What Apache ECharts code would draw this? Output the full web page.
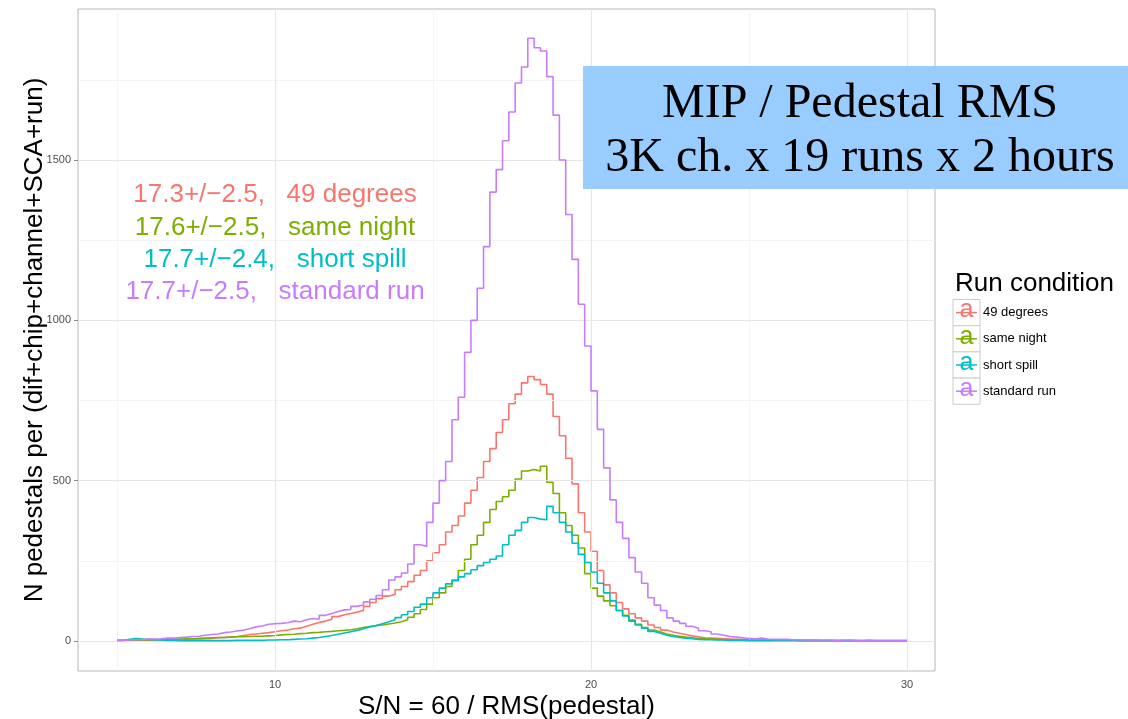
<!DOCTYPE html>
<html>
<head>
<meta charset="utf-8">
<script src="https://cdn.jsdelivr.net/npm/echarts/dist/echarts.min.js"></script>
<style>
html,body{margin:0;padding:0;background:#fff;}
#chart{width:1128px;height:719px;}
</style>
</head>
<body>
<div id="chart"></div>
<script>
// ---- data ----
const seriesNames = ['49 degrees', 'same night', 'short spill', 'standard run'];
const seriesColors = ['#F8766D', '#7CAE00', '#00BFC4', '#C77CFF'];
const binStart = 5.0;
const binWidth = 0.2;

const deg49 = [
  1,1,2,2,2,3,3,3,4,4,
  5,6,6,7,8,10,11,12,14,17,
  20,22,24,26,29,32,34,38,40,46,
  52,58,62,68,76,82,86,90,95,108,
  120,132,140,145,160,170,185,205,220,250,
  275,300,340,360,390,430,470,510,560,600,
  650,690,740,770,805,825,815,800,770,700,
  640,570,490,400,340,280,220,175,150,120,
  100,85,72,62,50,42,34,28,24,20,
  16,13,10,9,8,7,6,5,5,4,
  3,3,3,2,2,2,2,2,1,1,
  1,1,1,1,1,1,1,0,1,0,
  0,0,0,0,0
];
const sameNight = [
  1,2,3,3,4,4,4,5,5,6,
  7,7,8,9,10,11,11,12,13,13,
  14,15,15,16,17,19,20,21,23,24,
  26,27,29,30,32,33,35,38,42,45,
  48,50,53,56,60,66,74,85,98,115,
  135,150,170,190,220,255,300,330,370,410,
  435,450,470,505,530,535,530,545,495,460,
  400,360,330,290,210,165,140,125,110,95,
  80,65,52,42,34,28,22,18,15,12,
  10,8,7,6,5,4,4,3,3,2,
  2,2,2,1,1,1,1,1,1,1,
  1,0,1,0,0,1,0,0,0,0,
  0,0,0,0,0
];
const shortSpill = [
  2,5,8,6,5,4,3,2,2,1,
  1,1,1,1,1,1,1,1,2,2,
  2,2,2,3,3,4,4,5,6,7,
  9,11,14,17,21,25,29,33,38,44,
  48,54,60,66,73,82,92,105,115,135,
  150,165,178,188,200,210,222,235,245,255,
  265,300,330,345,370,385,380,378,420,400,
  370,340,305,270,245,215,180,150,125,95,
  78,62,50,40,30,24,18,14,11,9,
  7,5,4,4,3,3,2,2,2,1,
  1,1,1,1,1,1,1,0,1,0,
  0,0,0,0,0,0,0,0,0,0,
  0,0,0,0,0
];
const standardRun = [
  2,3,4,4,6,6,7,9,9,11,
  12,14,15,18,20,22,26,28,31,34,
  38,44,47,52,54,55,57,62,60,66,
  70,68,80,86,92,97,98,108,112,122,
  130,142,160,190,200,212,240,300,295,370,
  430,500,560,690,760,900,1000,1100,1230,1400,
  1470,1560,1650,1740,1790,1880,1850,1840,1760,1640,
  1500,1330,1190,1050,920,780,660,540,440,370,
  320,260,215,180,135,112,95,72,62,55,
  46,40,32,29,22,18,14,12,10,8,
  7,9,6,5,5,5,4,4,3,4,
  3,3,3,2,3,3,2,2,3,2,
  2,2,2,2,2
];

const annotationTexts = [
  '17.3+/\u22122.5,   49 degrees',
  '17.6+/\u22122.5,   same night',
  '17.7+/\u22122.4,   short spill',
  '17.7+/\u22122.5,   standard run'
];
const annotationX = 10;
const annotationY = [1390, 1290, 1190, 1090];

const xMajorTicks = [10, 20, 30];
const xMinorTicks = [5, 15, 25];
const yMajorTicks = [0, 500, 1000, 1500];
const yMinorTicks = [250, 750, 1250, 1750];

const xTitle = 'S/N = 60 / RMS(pedestal)';
const yTitle = 'N pedestals per (dif+chip+channel+SCA+run)';
const legendTitle = 'Run condition';
const boxLines = ['MIP / Pedestal RMS', '3K ch. x 19 runs x 2 hours'];

// ---- build ----
const allValues = [deg49, sameNight, shortSpill, standardRun];
function toSteps(vals) {
  const pts = vals.map((v, i) => [binStart + i * binWidth, v]);
  pts.push([binStart + vals.length * binWidth, vals[vals.length - 1]]);
  return pts;
}

const SANS = '"Liberation Sans", Arial, Helvetica, sans-serif';
const SERIF = '"Liberation Serif", "Times New Roman", serif';

const gridMarkLines = [];
xMinorTicks.forEach(v => gridMarkLines.push({ xAxis: v, lineStyle: { color: '#f4f4f4', width: 1, type: 'solid' } }));
yMinorTicks.forEach(v => gridMarkLines.push({ yAxis: v, lineStyle: { color: '#f4f4f4', width: 1, type: 'solid' } }));
xMajorTicks.forEach(v => gridMarkLines.push({ xAxis: v, lineStyle: { color: '#e6e6e6', width: 1.2, type: 'solid' } }));
yMajorTicks.forEach(v => gridMarkLines.push({ yAxis: v, lineStyle: { color: '#e6e6e6', width: 1.2, type: 'solid' } }));

const series = [{
  type: 'line',
  name: 'grid',
  data: [],
  z: 1,
  silent: true,
  markLine: {
    silent: true,
    symbol: 'none',
    animation: false,
    label: { show: false },
    lineStyle: { type: 'solid' },
    data: gridMarkLines
  }
}];

allValues.forEach((vals, i) => {
  series.push({
    type: 'line',
    name: seriesNames[i],
    step: 'end',
    showSymbol: false,
    symbol: 'none',
    z: 3 + i,
    data: toSteps(vals),
    lineStyle: { color: seriesColors[i], width: 1.6 },
    itemStyle: { color: seriesColors[i] },
    animation: false
  });
});

series.push({
  type: 'scatter',
  name: 'annotations',
  symbolSize: 0,
  z: 10,
  silent: true,
  itemStyle: { opacity: 1 },
  data: annotationY.map((y, i) => ({
    value: [annotationX, y],
    itemStyle: { opacity: 1 },
    label: {
      show: true,
      position: 'inside',
      formatter: annotationTexts[i],
      color: seriesColors[i],
      fontSize: 26,
      fontFamily: SANS,
      align: 'center',
      verticalAlign: 'middle',
      opacity: 1,
      textBorderWidth: 0
    }
  })),
  animation: false
});

// legend drawn as graphic elements from the series names
const legendEls = [];
const legX = 953, legY0 = 299.5, keyW = 27, keyH = 26.2;
legendEls.push({
  type: 'text', left: 955, top: 271,
  style: { text: legendTitle, font: '26px ' + SANS, fill: '#000' }
});
seriesNames.forEach((nm, i) => {
  const y = legY0 + i * keyH;
  legendEls.push({
    type: 'rect', shape: { x: legX, y: y, width: keyW, height: keyH },
    style: { fill: '#fff', stroke: '#cccccc', lineWidth: 1 }
  });
  legendEls.push({
    type: 'text', x: legX + keyW / 2, y: y + keyH / 2 - 2,
    style: { text: 'a', font: '25px ' + SANS, fill: seriesColors[i], align: 'center', verticalAlign: 'middle' }
  });
  legendEls.push({
    type: 'line', shape: { x1: legX + 3, y1: y + keyH / 2, x2: legX + keyW - 3, y2: y + keyH / 2 },
    style: { stroke: seriesColors[i], lineWidth: 1.5 }
  });
  legendEls.push({
    type: 'text', x: 983, y: y + keyH / 2,
    style: { text: nm, font: '13px ' + SANS, fill: '#000', align: 'left', verticalAlign: 'middle' }
  });
});

const boxEls = [
  { type: 'rect', shape: { x: 583, y: 66, width: 560, height: 123 }, style: { fill: '#99CCFF' }, z: 20 },
  { type: 'text', x: 860, y: 104, z: 21,
    style: { text: boxLines[0], font: '48px ' + SERIF, fill: '#000', align: 'center', verticalAlign: 'middle' } },
  { type: 'text', x: 860, y: 158, z: 21,
    style: { text: boxLines[1], font: '48px ' + SERIF, fill: '#000', align: 'center', verticalAlign: 'middle' } }
];

const chart = echarts.init(document.getElementById('chart'), null, { renderer: 'canvas' });
chart.setOption({
  animation: false,
  backgroundColor: '#ffffff',
  grid: {
    left: 78, right: 193, top: 9, bottom: 48,
    show: true, backgroundColor: '#ffffff', borderColor: '#b8b8b8', borderWidth: 1,
    containLabel: false,
    outerBoundsMode: 'none'
  },
  xAxis: {
    type: 'value',
    min: 3.766, max: 30.886,
    axisLine: { show: false },
    axisTick: { show: true, customValues: xMajorTicks, length: 4, lineStyle: { color: '#8a8a8a' } },
    axisLabel: { customValues: xMajorTicks, fontSize: 11, color: '#4d4d4d', fontFamily: SANS, margin: 8,
                 formatter: v => String(v) },
    splitLine: { show: false },
    name: xTitle,
    nameLocation: 'middle',
    nameGap: 23,
    nameMoveOverlap: false,
    nameTextStyle: { fontSize: 26, color: '#000', fontFamily: SANS }
  },
  yAxis: {
    type: 'value',
    min: -93.6, max: 1971,
    axisLine: { show: false },
    axisTick: { show: true, customValues: yMajorTicks, length: 4, lineStyle: { color: '#8a8a8a' } },
    axisLabel: { customValues: yMajorTicks, fontSize: 11, color: '#4d4d4d', fontFamily: SANS, margin: 7,
                 formatter: v => String(v) },
    splitLine: { show: false },
    name: yTitle,
    nameLocation: 'middle',
    nameGap: 30,
    nameRotate: 90,
    nameMoveOverlap: false,
    nameTextStyle: { fontSize: 26, color: '#000', fontFamily: SANS }
  },
  series: series,
  graphic: legendEls.concat(boxEls)
});
</script>
</body>
</html>
